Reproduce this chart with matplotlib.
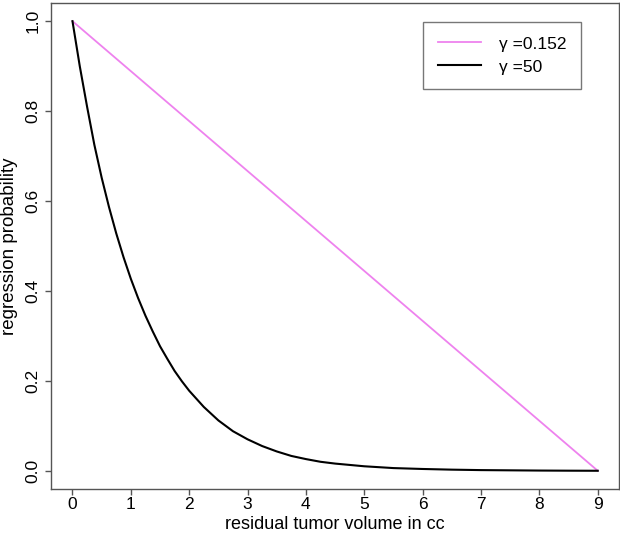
import matplotlib
matplotlib.use("Agg")
import matplotlib.pyplot as plt

plt.rcParams['font.family'] = ['Liberation Sans', 'DejaVu Sans']

# data
x_linear = [0, 9]
y_linear = [1.0, 0.0]

x_curve = [0, 0.125, 0.25, 0.375, 0.5, 0.625, 0.75, 0.875, 1.0, 1.125, 1.25,
           1.375, 1.5, 1.625, 1.75, 1.875, 2.0, 2.25, 2.5, 2.75, 3.0, 3.25,
           3.5, 3.75, 4.0, 4.25, 4.5, 4.75, 5.0, 5.5, 6.0, 6.5, 7.0, 7.5,
           8.0, 8.5, 9.0]
y_curve = [1.0, 0.90, 0.81, 0.725, 0.652, 0.587, 0.528, 0.475, 0.427, 0.384,
           0.345, 0.31, 0.277, 0.249, 0.222, 0.199, 0.178, 0.142, 0.112,
           0.088, 0.070, 0.055, 0.043, 0.033, 0.026, 0.020, 0.016, 0.013,
           0.010, 0.006, 0.004, 0.0025, 0.0015, 0.001, 0.0005, 0.0002, 0.0]

labels = ["\u03b3 =0.152", "\u03b3 =50"]
x_ticks = list(range(10))
y_ticks = [0.0, 0.2, 0.4, 0.6, 0.8, 1.0]

fig = plt.figure(figsize=(6.2, 5.33), dpi=100)
ax = fig.add_axes([0.083, 0.083, 0.915, 0.911])

ax.plot(x_linear, y_linear, color="#ee82ee", lw=1.3, label=labels[0])
ax.plot(x_curve, y_curve, color="black", lw=1.5, label=labels[1],
        solid_joinstyle="round")

ax.set_xlim(-0.36, 9.36)
ax.set_ylim(-0.04, 1.04)
ax.set_xticks(x_ticks)
ax.set_xticklabels([str(t) for t in x_ticks])
ax.set_yticks(y_ticks)
ax.set_yticklabels([f"{t:.1f}" for t in y_ticks], rotation=90, va="center")

for s in ax.spines.values():
    s.set_color("#555555")
    s.set_linewidth(1.0)
ax.tick_params(axis="both", direction="out", length=4, width=1.0,
               color="#555555", labelsize=12.5)
ax.tick_params(axis="x", pad=2)
ax.tick_params(axis="y", pad=4)

ax.set_xlabel("residual tumor volume in cc", fontsize=13, labelpad=2.5)
ax.set_ylabel("regression probability", fontsize=13.5, labelpad=5)

leg = ax.legend(loc="upper left", bbox_to_anchor=(0.655, 0.962),
                borderaxespad=0, fancybox=False, frameon=True,
                edgecolor="#555555", fontsize=12.5, handlelength=2.5,
                handletextpad=1.0, borderpad=0.85, labelspacing=0.45)
leg.get_frame().set_linewidth(1.0)

fig.savefig("out.png", dpi=100)
